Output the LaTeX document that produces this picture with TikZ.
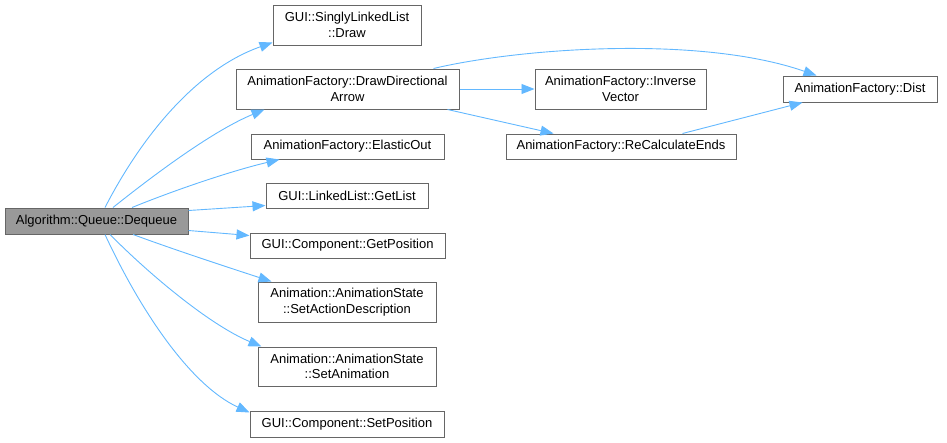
\documentclass[tikz,border=0pt]{standalone}
\usepackage{fontspec}
\setmainfont{Liberation Sans}
\usetikzlibrary{arrows.meta,calc}
\definecolor{edgeblue}{HTML}{63B8FF}
\definecolor{boxline}{HTML}{666666}
\definecolor{curfill}{HTML}{999999}
\begin{document}
\begin{tikzpicture}[x=1pt,y=-1pt,
  fn/.style={draw=boxline,line width=1pt,fill=white,rectangle,inner sep=0pt,align=center,
    font=\fontsize{13}{15.5}\selectfont},
  cur/.style={fn,fill=curfill},
  call/.style={draw=edgeblue,line width=0.9pt,-{Triangle[length=13pt,width=10pt,fill=edgeblue]}}]
\useasboundingbox (0,0) rectangle (947,442);
\node[cur,minimum width=183,minimum height=26] (deq) at (96.5,221) {Algorithm::Queue::Dequeue};
\node[fn,minimum width=148,minimum height=40] (draw) at (347,25) {GUI::SinglyLinkedList\\::Draw};
\node[fn,minimum width=223,minimum height=40] (dda) at (347.5,89) {AnimationFactory::DrawDirectional\\Arrow};
\node[fn,minimum width=193,minimum height=25] (elastic) at (347.5,146.5) {AnimationFactory::ElasticOut};
\node[fn,minimum width=162,minimum height=25] (getlist) at (347,195.5) {GUI::LinkedList::GetList};
\node[fn,minimum width=195,minimum height=25] (getpos) at (347.5,245.5) {GUI::Component::GetPosition};
\node[fn,minimum width=178,minimum height=40] (setad) at (347,302) {Animation::AnimationState\\::SetActionDescription};
\node[fn,minimum width=178,minimum height=39] (setanim) at (347,366.5) {Animation::AnimationState\\::SetAnimation};
\node[fn,minimum width=194,minimum height=26] (setpos) at (347,424) {GUI::Component::SetPosition};
\node[fn,minimum width=171,minimum height=40] (inv) at (620.5,89) {AnimationFactory::Inverse\\Vector};
\node[fn,minimum width=230,minimum height=25] (recalc) at (621,146.5) {AnimationFactory::ReCalculateEnds};
\node[fn,minimum width=154,minimum height=26] (dist) at (860,89) {AnimationFactory::Dist};

\draw[call] ($(deq.north)+(8.5,0)$) .. controls (145,130) and (200,68) .. ($(draw.south west)+(0,-3)$);
\draw[call] ($(deq.north)+(16.5,0)$) .. controls (160,170) and (215,130) .. ($(dda.south west)+(29,0)$);
\draw[call] ($(deq.north)+(35.5,0)$) .. controls (180,188) and (235,170) .. ($(elastic.south west)+(29,0)$);
\draw[call] ($(deq.north east)+(0,3)$) -- ($(getlist.south west)+(0,-3)$);
\draw[call] ($(deq.south east)+(0,-4)$) -- ($(getpos.north west)+(0,3)$);
\draw[call] ($(deq.south)+(36.5,0)$) .. controls (175,250) and (230,268) .. ($(setad.north west)+(14,0)$);
\draw[call] ($(deq.south)+(13.5,0)$) .. controls (150,275) and (210,325) .. ($(setanim.north west)+(4,0)$);
\draw[call] ($(deq.south)+(8.5,0)$) .. controls (140,310) and (190,385) .. ($(setpos.north west)+(0,2)$);
\draw[call] ($(dda.north east)+(-26,0)$) .. controls (520,48) and (700,35) .. ($(dist.north west)+(34,0)$);
\draw[call] (dda.east) -- (inv.west);
\draw[call] ($(dda.south east)+(-12,0)$) -- ($(recalc.north west)+(48,0)$);
\draw[call] ($(recalc.north west)+(177,0)$) -- ($(dist.south west)+(20,0)$);
\end{tikzpicture}
\end{document}
